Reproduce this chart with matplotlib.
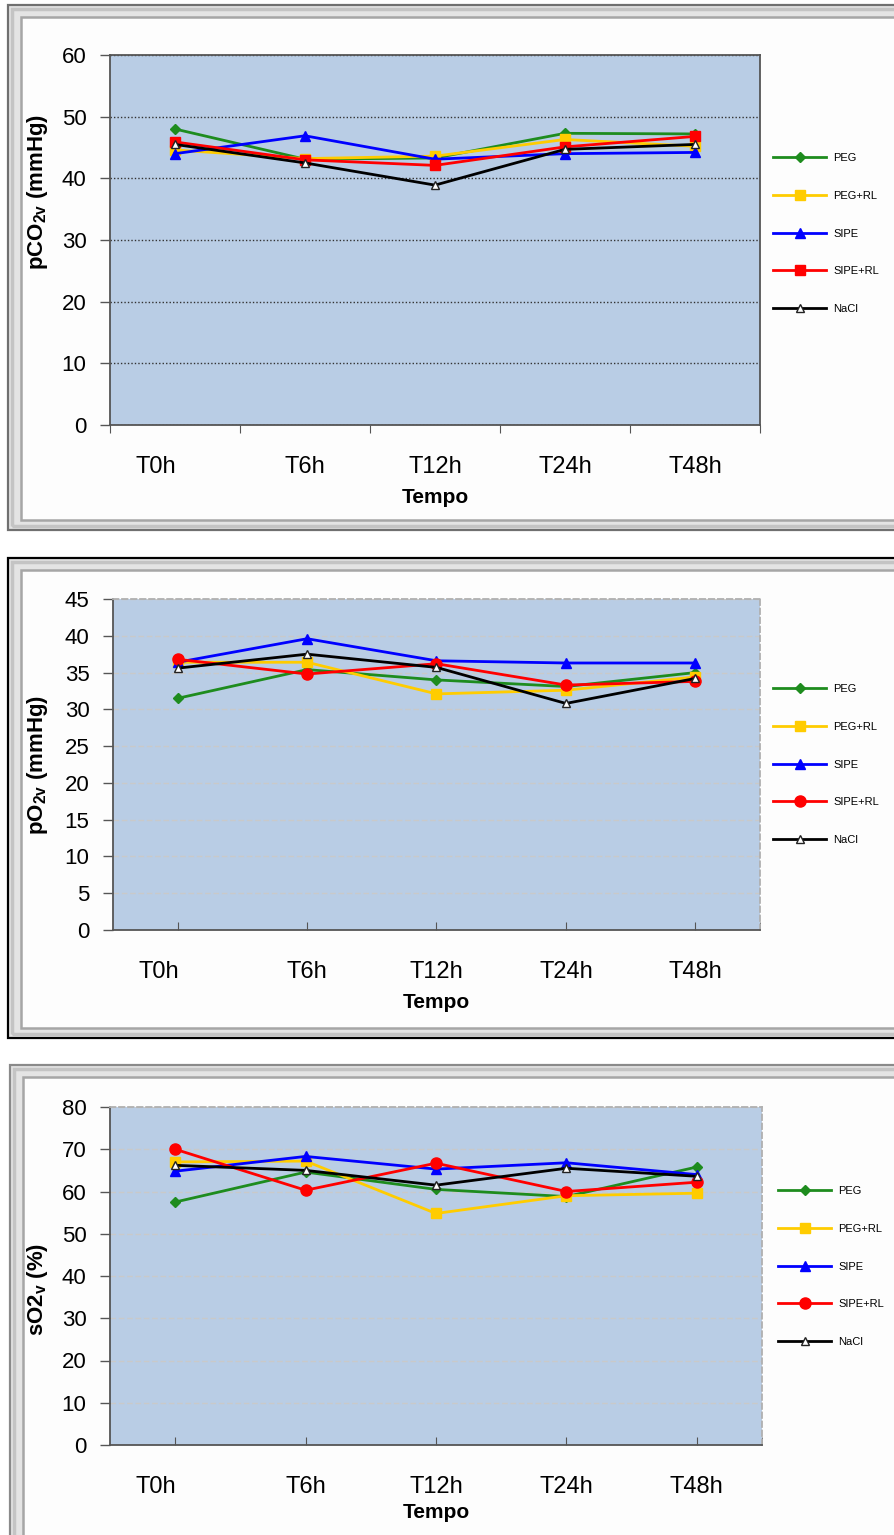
import matplotlib
matplotlib.use("Agg")
import matplotlib.pyplot as plt
import matplotlib.transforms as mtransforms
from matplotlib.patches import Rectangle

plt.rcParams['font.family'] = ['Liberation Sans', 'DejaVu Sans']
plt.rcParams['mathtext.fontset'] = 'custom'
plt.rcParams['mathtext.rm'] = 'Liberation Sans'
plt.rcParams['mathtext.bf'] = 'Liberation Sans:bold'

# ---- data ----
tempos = ["T0h", "T6h", "T12h", "T24h", "T48h"]
grupos = ["PEG", "PEG+RL", "SIPE", "SIPE+RL", "NaCl"]

pco2_peg = [48.0, 43.1, 43.3, 47.3, 47.2]
pco2_pegrl = [44.6, 43.2, 43.6, 46.3, 45.2]
pco2_sipe = [44.0, 46.9, 43.1, 44.0, 44.2]
pco2_siperl = [45.9, 43.0, 42.1, 45.1, 46.8]
pco2_nacl = [45.5, 42.5, 38.9, 44.7, 45.5]

po2_peg = [31.5, 35.4, 34.0, 33.1, 35.0]
po2_pegrl = [36.4, 36.4, 32.1, 32.6, 34.4]
po2_sipe = [36.4, 39.6, 36.6, 36.3, 36.3]
po2_siperl = [36.8, 34.8, 36.2, 33.3, 33.8]
po2_nacl = [35.6, 37.5, 35.7, 30.8, 34.2]

so2_peg = [57.5, 64.6, 60.5, 58.8, 65.8]
so2_pegrl = [67.0, 67.2, 54.8, 59.0, 59.6]
so2_sipe = [64.8, 68.3, 65.3, 66.8, 64.0]
so2_siperl = [70.0, 60.3, 66.7, 60.0, 62.2]
so2_nacl = [66.2, 65.0, 61.5, 65.5, 63.6]

W, H = 895, 1535
fig = plt.figure(figsize=(W / 100, H / 100), dpi=100)
fig.patch.set_facecolor('white')


def fx(px):
    return px / W


def fy(py):
    return 1 - py / H


def panel_frame(x0, y0, x1, y1, outer):
    # beveled border around each chart block
    fig.add_artist(Rectangle((fx(x0), fy(y1)), fx(x1 - x0), (y1 - y0) / H,
                             transform=fig.transFigure, facecolor='#E4E4E4',
                             edgecolor=outer, lw=1.6, zorder=-3))
    fig.add_artist(Rectangle((fx(x0 + 4), fy(y1 - 4)), fx(x1 - x0 - 8), (y1 - y0 - 8) / H,
                             transform=fig.transFigure, facecolor='none',
                             edgecolor='#C4C4C4', lw=2.5, zorder=-3))
    fig.add_artist(Rectangle((fx(x0 + 13), fy(y1 - 10)), fx(x1 - x0 - 26), (y1 - y0 - 22) / H,
                             transform=fig.transFigure, facecolor='#FDFDFD',
                             edgecolor='#A6A6A6', lw=1.8, zorder=-2))


panel_frame(8, 5, 912, 530, '#707070')
panel_frame(8, 558, 912, 1038, '#000000')
panel_frame(10, 1065, 912, 1560, '#8A8A8A')

styles = {
    "PEG": dict(color='#1E8C1E', marker='D', ms=5),
    "PEG+RL": dict(color='#FFCC00', marker='s', ms=7),
    "SIPE": dict(color='#0000FF', marker='^', ms=7),
    "SIPE+RL": dict(color='#FF0000', marker='s', ms=7),
    "NaCl": dict(color='#000000', marker='^', ms=6, mfc='white', mec='#222222'),
}

panels = [
    dict(rect=(110, 55, 760, 425), series=[pco2_peg, pco2_pegrl, pco2_sipe, pco2_siperl, pco2_nacl],
         ylim=(0, 60), step=10, ylabel=r"pCO$_{\mathbf{2v}}$ (mmHg)", red_marker='s',
         legend=(773, 153), style=1, ylab_y=0.63, tempo_y=488),
    dict(rect=(113, 599, 760, 930), series=[po2_peg, po2_pegrl, po2_sipe, po2_siperl, po2_nacl],
         ylim=(0, 45), step=5, ylabel=r"pO$_{\mathbf{2v}}$ (mmHg)", red_marker='o',
         legend=(773, 684), style=2, ylab_y=0.5, tempo_y=993),
    dict(rect=(110, 1107, 762, 1445), series=[so2_peg, so2_pegrl, so2_sipe, so2_siperl, so2_nacl],
         ylim=(0, 80), step=10, ylabel=r"sO2$_{\mathbf{v}}$ (%)", red_marker='o',
         legend=(778, 1186), style=2, ylab_y=0.46, tempo_y=1503),
]

xs = list(range(len(tempos)))

for p in panels:
    x0, y0, x1, y1 = p['rect']
    ax = fig.add_axes([fx(x0), fy(y1), fx(x1 - x0), (y1 - y0) / H])
    ax.set_facecolor('#B9CDE5')
    ax.set_xlim(-0.5, len(tempos) - 0.5)
    ax.set_ylim(*p['ylim'])
    yt = list(range(p['ylim'][0], p['ylim'][1] + 1, p['step']))
    ax.set_yticks(yt)
    ax.tick_params(axis='y', direction='out', length=7, width=1, color='#555555',
                   labelsize=16, pad=10)

    for name, vals in zip(grupos, p['series']):
        st = dict(styles[name])
        if name == "SIPE+RL":
            st['marker'] = p['red_marker']
            if p['red_marker'] == 'o':
                st['ms'] = 8
        ax.plot(xs, vals, lw=2.0, label=name, clip_on=False, zorder=3, **st)

    ax.set_axisbelow(True)
    if p['style'] == 1:
        ax.set_xticks([i - 0.5 for i in range(len(tempos) + 1)])
        ax.set_xticklabels([])
        ax.set_xticks(xs, minor=True)
        ax.set_xticklabels(tempos, minor=True)
        ax.tick_params(axis='x', which='major', direction='out', length=6, color='#555555')
        ax.tick_params(axis='x', which='minor', length=0, labelsize=17, pad=22)
        ax.grid(axis='y', color='#333333', linestyle=(0, (1, 1.5)), lw=1.0)
        for s in ax.spines.values():
            s.set_color('#555555')
            s.set_linewidth(1.3)
        lbls = ax.get_xticklabels(minor=True)
    else:
        ax.set_xticks(xs)
        ax.set_xticklabels(tempos)
        ax.set_xticks([len(tempos) - 0.5], minor=True)
        ax.tick_params(axis='x', which='both', direction='in', length=6, color='#555555',
                       labelsize=17, pad=22)
        ax.grid(axis='y', color='#C9C9C9', linestyle=(0, (4, 2)), lw=1.0)
        for side in ('left', 'bottom'):
            ax.spines[side].set_color('#555555')
            ax.spines[side].set_linewidth(1.3)
        for side in ('top', 'right'):
            ax.spines[side].set_color('#B0B0B0')
            ax.spines[side].set_linestyle((0, (3, 2)))
            ax.spines[side].set_linewidth(1.3)
        lbls = ax.get_xticklabels()
    # first category label sits a little left of its tick
    lbls[0].set_transform(lbls[0].get_transform() +
                          mtransforms.ScaledTranslation(-19 / 100, 0, fig.dpi_scale_trans))

    ax.set_xlabel("Tempo", fontsize=15, fontweight='bold')
    ax.xaxis.set_label_coords(0.5, (y1 - p['tempo_y']) / (y1 - y0))
    ax.set_ylabel(p['ylabel'], fontsize=16, fontweight='bold')
    ax.yaxis.set_label_coords((50 - x0) / (x1 - x0), p['ylab_y'])

    lx, ly = p['legend']
    ax.legend(loc='upper left', bbox_to_anchor=(fx(lx), fy(ly)),
              bbox_transform=fig.transFigure, frameon=False, fontsize=8,
              handlelength=4.8, handletextpad=0.6, labelspacing=2.5,
              borderpad=0, borderaxespad=0)

fig.savefig("out.png", dpi=100)
